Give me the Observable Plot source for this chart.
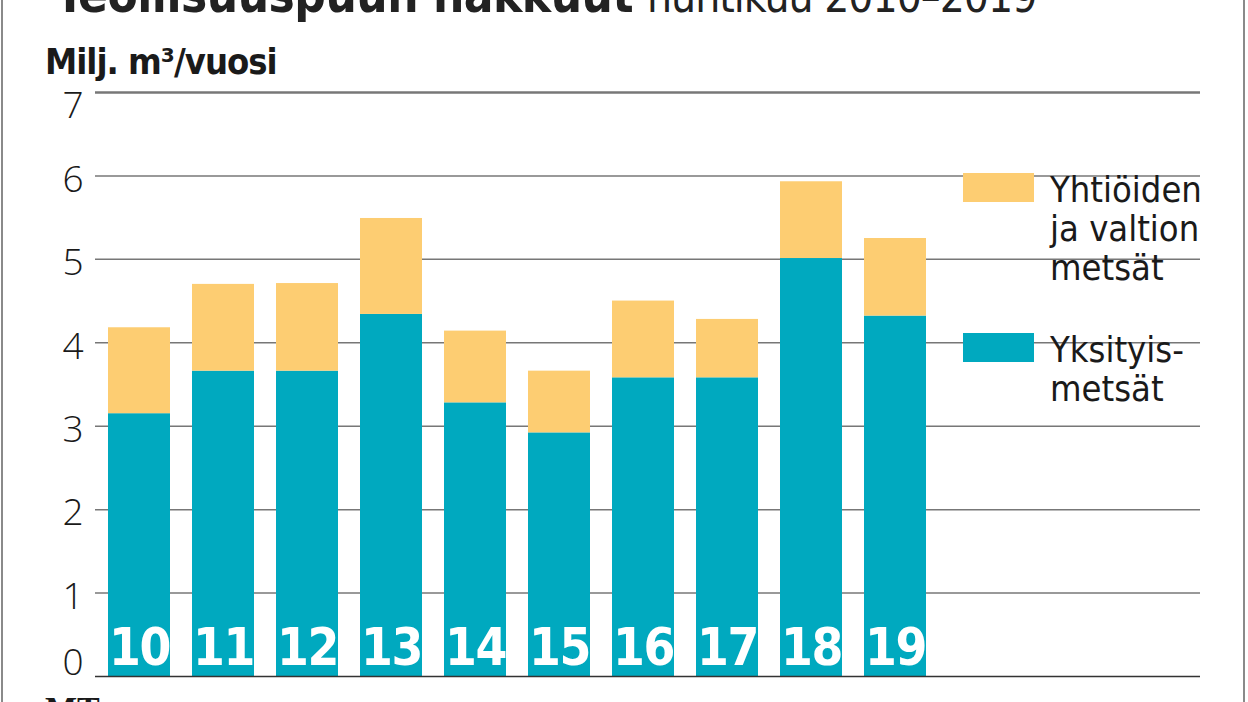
<!DOCTYPE html>
<html>
<head>
<meta charset="utf-8">
<script src="https://cdn.jsdelivr.net/npm/d3@7"></script>
<script src="https://cdn.jsdelivr.net/npm/@observablehq/plot@0.6"></script>
<style>
  html, body { margin: 0; padding: 0; background: #fff; }
  body { width: 1248px; height: 702px; position: relative; overflow: hidden;
         font-family: "DejaVu Sans Condensed", "Liberation Sans Narrow", sans-serif; color: #1a1a1a; }
  #header { position: relative; height: 75px; }
  #title { position: absolute; left: 55px; top: -29px; white-space: nowrap; font-size: 49px; line-height: 49px; color: #222; }
  #title b { font-weight: 900; letter-spacing: -0.5px; }
  #title span { font-weight: 300; font-size: 44px; letter-spacing: -1px; }
  #ylabel { position: absolute; left: 45px; top: 42px; font-size: 36px; font-weight: bold; line-height: 40px; color: #1a1a1a; letter-spacing: -1px; }
  #legend { position: absolute; left: 963px; top: 170px; font-size: 36px; line-height: 39px; color: #1a1a1a; }
  .item { display: flex; align-items: flex-start; margin-bottom: 43px; }
  .sw { width: 71px; height: 29px; margin-top: 3px; margin-right: 16px; flex: none; }
  #footer { position: relative; height: 12px; overflow: hidden; }
  #mt { position: absolute; left: 45px; top: 2px; font-family: "Liberation Serif", serif; font-weight: bold; font-size: 34px; line-height: 34px; }
  .frame { position: absolute; top: 0; bottom: 0; width: 2px; background: #8a8a8a; }
  g[fill="white"] text { letter-spacing: -1.5px; }
</style>
</head>
<body>
<div class="frame" style="left:1px"></div>
<div class="frame" style="left:1243px"></div>
<div id="header">
  <div id="title"><b>Teollisuuspuun hakkuut</b> <span>huhtikuu 2010–2019</span></div>
  <div id="ylabel">Milj. m³/vuosi</div>
</div>
<div id="chart"></div>
<div id="footer"><div id="mt">MT</div></div>
<div id="legend"></div>
<script>
const years = ["10", "11", "12", "13", "14", "15", "16", "17", "18", "19"];
const seriesNames = ["Yksityismetsät", "Yhtiöiden ja valtion metsät"];
const legendLabels = ["Yhtiöiden<br>ja valtion<br>metsät", "Yksityis-<br>metsät"];
const yksityis = [3.15, 3.66, 3.66, 4.34, 3.28, 2.92, 3.58, 3.58, 5.01, 4.32];
const yhtiot   = [1.03, 1.04, 1.05, 1.15, 0.86, 0.74, 0.92, 0.70, 0.92, 0.93];
const colors = ["#00a9bf", "#fdcd72"];
const yTicks = [0, 1, 2, 3, 4, 5, 6, 7];

const rows = [];
years.forEach((yr, i) => {
  rows.push({year: yr, series: seriesNames[0], value: yksityis[i]});
  rows.push({year: yr, series: seriesNames[1], value: yhtiot[i]});
});

const tickFont = {tickSize: 0, tickPadding: 12, fontSize: 37, fontWeight: 300, tickFormat: d => String(d), label: null,
  fontFamily: "'Open Sans', 'DejaVu Sans Condensed', sans-serif"};

const chart = Plot.plot({
  width: 1248,
  height: 615,
  marginTop: 17,
  marginBottom: 14,
  marginLeft: 95,
  marginRight: 48,
  style: {fontFamily: "'DejaVu Sans Condensed', 'Liberation Sans Narrow', sans-serif", color: "#1a1a1a", background: "transparent"},
  x: {domain: years, range: [108, 926], paddingInner: 0.262, paddingOuter: 0, axis: null},
  y: {domain: [0, 7], axis: null},
  color: {domain: seriesNames, range: colors},
  marks: [
    Plot.ruleY(yTicks.slice(1, 7), {stroke: "#777", strokeWidth: 1.5}),
    Plot.ruleY([yTicks[7]], {stroke: "#777", strokeWidth: 2.5}),
    Plot.barY(rows, Plot.stackY({x: "year", y: "value", fill: "series", order: seriesNames, inset: 0})),
    Plot.ruleY([yTicks[0]], {stroke: "#333", strokeWidth: 1.5}),
    Plot.axisY(yTicks.slice(1, 7), {...tickFont, dy: 4}),
    Plot.axisY([yTicks[7]], {...tickFont, dy: 14}),
    Plot.axisY([yTicks[0]], {...tickFont, dy: -13}),
    Plot.text(years, {x: d => d, y: 0, text: d => d, dy: -28, fill: "white", fontSize: 51, fontWeight: "bold"})
  ]
});
document.getElementById("chart").appendChild(chart);

const legend = document.getElementById("legend");
const legendOrder = [1, 0];
legendOrder.forEach((k, j) => {
  const item = document.createElement("div");
  item.className = "item";
  item.innerHTML = `<div class="sw" style="background:${colors[k]}"></div><div>${legendLabels[j]}</div>`;
  legend.appendChild(item);
});
</script>
</body>
</html>
